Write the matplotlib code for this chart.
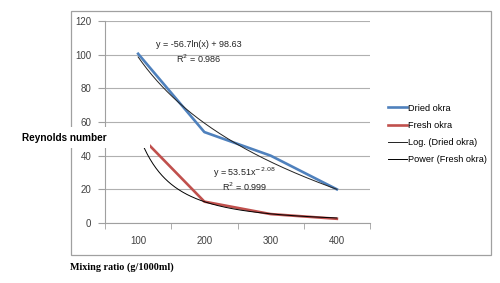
import numpy as np
import matplotlib
matplotlib.use("Agg")
import matplotlib.pyplot as plt
from matplotlib.patches import Rectangle

# data (category axis in the original)
categories = ["100", "200", "300", "400"]
dried = [100.5, 54, 40, 20]
fresh = [53, 12.7, 5.3, 2.5]

# trendline coefficients as printed on the chart
log_a, log_b = -56.7, 98.63
pow_a, pow_b = 53.51, -2.08

plt.rcParams['font.family'] = ['Liberation Sans', 'DejaVu Sans']

fig = plt.figure(figsize=(5, 2.83), dpi=100)
ax = fig.add_axes([0.21, 0.212, 0.53, 0.714])

x = np.arange(1, len(categories) + 1)
ax.plot(x, dried, color='#4f81bd', lw=1.9, label='Dried okra', zorder=3)
ax.plot(x, fresh, color='#c0504d', lw=1.9, label='Fresh okra', zorder=3)

xs = np.linspace(1, 4, 200)
ax.plot(xs, log_a * np.log(xs) + log_b, color='#222222', lw=0.7,
        label='Log. (Dried okra)', zorder=4)
ax.plot(xs, pow_a * xs ** pow_b, color='black', lw=0.7,
        label='Power (Fresh okra)', zorder=4)

ax.set_xlim(0.5, 4.5)
ax.set_ylim(0, 120)
ax.set_yticks(range(0, 121, 20))
ax.set_xticks(x)
ax.set_xticklabels(categories)
ax.set_xticks(np.arange(0.5, 4.6, 1), minor=True)
ax.tick_params(axis='x', which='major', length=0, labelsize=7, pad=9, labelcolor='#404040')
ax.tick_params(axis='x', which='minor', length=4, color='#a0a0a0', direction='out')
ax.tick_params(axis='y', length=5, color='#a0a0a0', labelsize=7, pad=5, labelcolor='#404040')
ax.grid(axis='y', color='#b0b0b0', lw=0.8)
ax.set_axisbelow(True)
for s in ['top', 'right']:
    ax.spines[s].set_visible(False)
for s in ['left', 'bottom']:
    ax.spines[s].set_color('#a0a0a0')

ax.text(1.92, 105.8, 'y = -56.7ln(x) + 98.63', fontsize=6.5, ha='center', va='center', color='#222222')
ax.text(1.92, 97.4, 'R$^2$ = 0.986', fontsize=6.5, ha='center', va='center', color='#222222')
ax.text(2.6, 29.7, 'y = 53.51x$^{-2.08}$', fontsize=6.5, ha='center', va='center', color='#222222')
ax.text(2.6, 21.4, 'R$^2$ = 0.999', fontsize=6.5, ha='center', va='center', color='#222222')

# outer chart border
fig.patches.append(Rectangle((0.142, 0.099), 0.84, 0.862, transform=fig.transFigure,
                             fill=False, edgecolor='#a0a0a0', lw=0.9, zorder=0))
# white box behind y label, covers part of the plot like the original
fig.patches.append(Rectangle((0.03, 0.477), 0.27, 0.074, transform=fig.transFigure,
                             facecolor='white', edgecolor='none', zorder=10))
fig.text(0.044, 0.514, 'Reynolds number', fontsize=7.2, fontweight='bold',
         ha='left', va='center', zorder=11)
fig.text(0.14, 0.057, 'Mixing ratio (g/1000ml)', fontsize=7.3, fontweight='bold',
         family='Liberation Serif', ha='left', va='center')

fig.legend(loc='upper left', bbox_to_anchor=(0.768, 0.647), frameon=False, fontsize=6.6,
           handlelength=2.1, handletextpad=0.15, labelspacing=0.9, borderaxespad=0)

fig.savefig('out.png', dpi=100)
